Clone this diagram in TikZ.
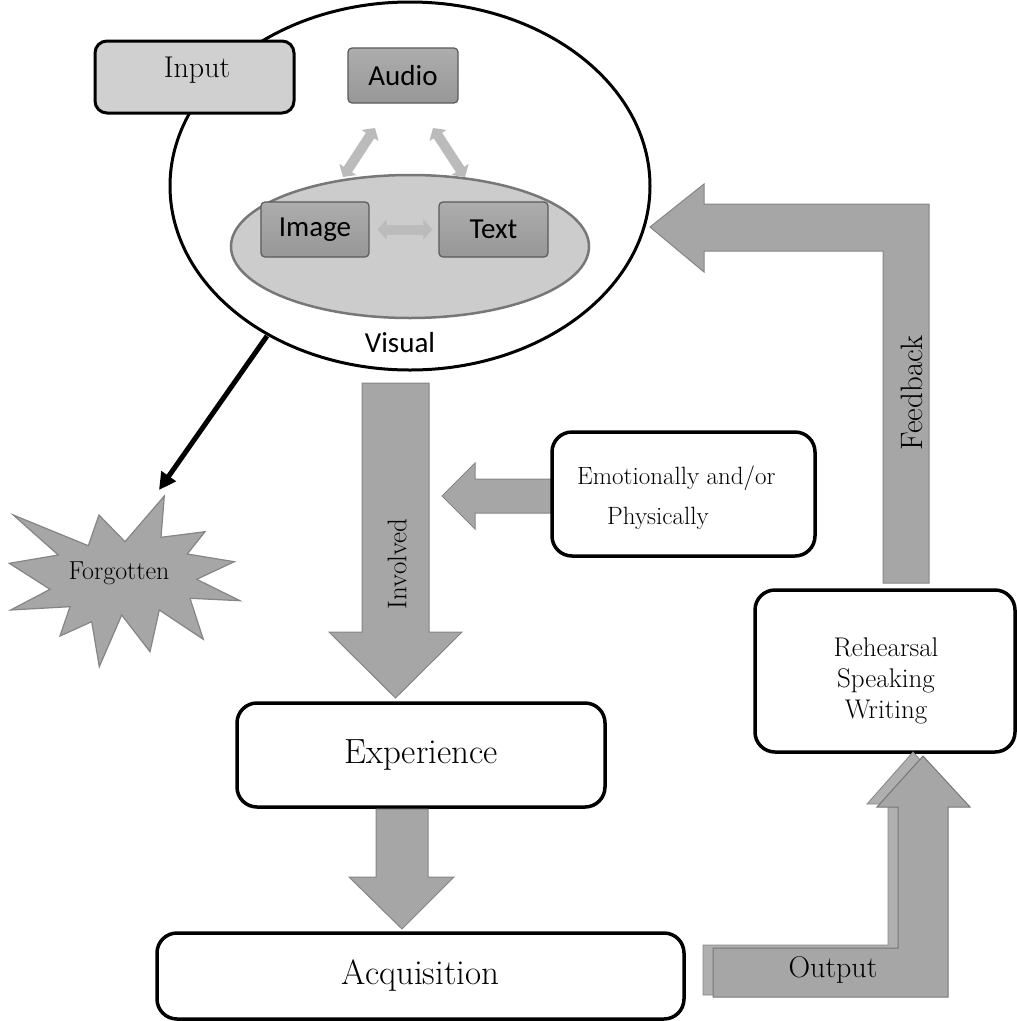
\documentclass[tikz,border=0pt]{standalone}
\usepackage{fontspec}
\newfontfamily\calibri{Carlito}
\usetikzlibrary{arrows.meta,shapes.geometric}
\definecolor{arrowgray}{HTML}{A6A6A6}
\definecolor{arrowedge}{HTML}{858585}
\definecolor{lightarr}{HTML}{BBBBBB}
\definecolor{innerfill}{HTML}{CCCCCC}
\definecolor{inneredge}{HTML}{777777}
\definecolor{inputfill}{HTML}{D0D0D0}
\definecolor{boxtop}{HTML}{ADADAD}
\definecolor{boxbot}{HTML}{979797}
\definecolor{boxedge}{HTML}{5A5A5A}
\begin{document}
\begin{tikzpicture}[x=1pt,y=-1pt,
  whitebox/.style={draw=black,line width=3.5pt,fill=white,rounded corners=20pt,inner sep=0pt},
  sansbox/.style={draw=boxedge,line width=1.2pt,top color=boxtop,bottom color=boxbot,rounded corners=4pt,inner sep=0pt,
     minimum height=55pt,font=\calibri\fontsize{29}{30}\selectfont},
  blockarrow/.style={fill=arrowgray,draw=arrowedge,line width=1pt,line join=miter},
  smallarr/.style={draw=lightarr,line width=10pt,{Triangle[width=20pt,length=9pt]}-{Triangle[width=20pt,length=9pt]}},
  rmtext/.style={inner sep=0pt,font=\fontsize{#1}{#1}\selectfont}
]
\useasboundingbox (0,0) rectangle (1017,1021);

% outer ellipse
\node[ellipse,draw=black,line width=3pt,fill=white,minimum width=480pt,minimum height=368pt,inner sep=0pt] (outer) at (410,186) {};
\node[ellipse,draw=inneredge,line width=2.5pt,fill=innerfill,minimum width=358pt,minimum height=143pt,inner sep=0pt] (inner) at (410,246.5) {};

% input box
\node[draw=black,line width=3pt,fill=inputfill,rounded corners=12pt,minimum width=199pt,minimum height=72pt,inner sep=0pt] (input) at (194.5,77) {};
\node[rmtext=30] (inputlbl) at (197,70) {Input};

% audio/image/text
\node[sansbox,minimum width=110pt] (audio) at (403,75.5) {Audio};
\node[sansbox,minimum width=108pt] (image) at (315,229.5) {Image};
\node[sansbox,minimum width=109pt] (text) at (493.5,229.5) {Text};
\node[inner sep=0pt,font=\calibri\fontsize{29}{30}\selectfont] (visual) at (400,343) {Visual};

\coordinate (ai1) at (375,128);
\coordinate (ai2) at (343,177);
\coordinate (at1) at (433,128);
\coordinate (at2) at (465,177);
\draw[smallarr] (ai1) -- (ai2);
\draw[smallarr] (at1) -- (at2);
\draw[smallarr,shorten <=8pt,shorten >=6pt] (image.east) -- (text.west);

% forgotten star
\node[inner sep=0pt,minimum size=0pt] (forgotten) at (125,578) {};
\draw[fill=arrowgray,draw=arrowedge,line width=1.2pt,line join=miter]
 (164.3,496) -- (161,537.3) -- (205,531.7) -- (187.3,554) -- (234.3,561.7) -- (196.7,579.3)
 -- (240,600.7) -- (190,598.3) -- (203.3,639.3) -- (159.3,610) -- (150,651.7) -- (121.7,615)
 -- (99.3,666.7) -- (91.7,621.7) -- (60,636) -- (70,606.7) -- (10.7,610) -- (50,589.3)
 -- (9.3,563.3) -- (58.3,555) -- (13.3,515) -- (88.3,545.7) -- (99,515) -- (125,541.7) -- cycle;
\node[rmtext=26] (forgottenlbl) at (119,573) {Forgotten};

% black arrow
\coordinate (fa) at (267,336);
\coordinate (fb) at (159,490);
\draw[line width=5pt,-{Triangle[length=17pt,width=17pt]}] (fa) -- (fb);

% involved arrow
\draw[blockarrow] (362,383) -- (429,383) -- (429,632) -- (462,632) -- (395.5,698) -- (329,632) -- (362,632) -- cycle;
\node[rmtext=27,rotate=90] (involved) at (397,564) {Involved};

% emotional arrow and box
\draw[blockarrow] (551,479) -- (475,479) -- (475,463) -- (442,496) -- (475,529) -- (475,513) -- (551,513) -- cycle;
\node[whitebox,minimum width=263pt,minimum height=124pt] (emo) at (683.5,494) {};
\node[rmtext=25,anchor=west] (emo1) at (577,478) {Emotionally and/or};
\node[rmtext=25,anchor=west] (emo2) at (607,518) {Physically};

% experience
\node[whitebox,minimum width=368pt,minimum height=104pt,font=\fontsize{35}{35}\selectfont] (exp) at (421,755) {Experience};
\draw[blockarrow] (376,809) -- (428,809) -- (428,877) -- (454,877) -- (402,929) -- (349,877) -- (376,877) -- cycle;
\node[whitebox,minimum width=527pt,minimum height=86pt,font=\fontsize{35}{35}\selectfont] (acq) at (420.5,976) {Acquisition};

% rehearsal box
\node[whitebox,minimum width=260pt,minimum height=162pt] (reh) at (885,671) {};
\node[inner sep=0pt,align=center,font=\fontsize{27}{31}\selectfont] (rehlbl) at (886,681) {Rehearsal\\Speaking\\Writing};

% output arrow (shadow + front)
\draw[fill=arrowgray!90!white,draw=arrowgray!80!black,line width=0.8pt]
 (703,945) -- (888,945) -- (888,804) -- (867,804) -- (913,752) -- (960,804) -- (938,804) -- (938,995) -- (703,995) -- cycle;
\draw[blockarrow,draw=inneredge]
 (713,948) -- (898,948) -- (898,807) -- (877,807) -- (923,756) -- (970,807) -- (948,807) -- (948,997) -- (713,997) -- cycle;
\node[rmtext=30] (outputlbl) at (833,970) {Output};

% feedback arrow
\draw[blockarrow] (929,583) -- (929,204) -- (704,204) -- (704,184) -- (650,227) -- (704,272) -- (704,251) -- (883,251) -- (883,583) -- cycle;
\node[rmtext=31,rotate=90] (feedback) at (912,393) {Feedback};

\end{tikzpicture}
\end{document}
